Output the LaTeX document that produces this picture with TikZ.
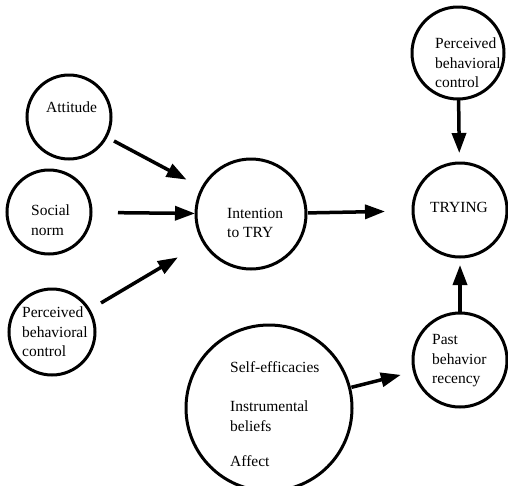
\documentclass[tikz,border=0pt]{standalone}
\usepackage{fontspec}
\setmainfont{Liberation Serif}
\usetikzlibrary{arrows.meta}
\tikzset{
  circ/.style={draw, circle, line width=3pt, inner sep=0pt, outer sep=0pt, minimum size=#1},
  lbl/.style={font=\fontsize{15.5}{19.5}\selectfont, align=left, anchor=west, inner sep=0pt},
  arr/.style={line width=3.5pt, -{Triangle[length=20pt,width=14pt]}}
}
\begin{document}
\begin{tikzpicture}[x=1pt,y=-1pt]
\useasboundingbox (0,0) rectangle (508,485);
\clip (0,0) rectangle (508,485);
% circles
\node[circ=84pt]  (att)  at (69,117) {};
\node[circ=84pt]  (soc)  at (49,212) {};
\node[circ=86pt]  (pbcL) at (52,332) {};
\node[circ=110pt] (int)  at (251,214) {};
\node[circ=94pt]  (try)  at (460,210) {};
\node[circ=92pt]  (pbcT) at (458,53) {};
\node[circ=94pt]  (past) at (460,360) {};
\node[circ=166pt] (big)  at (269,408) {};
% labels
\node[lbl] (tatt)  at (46,107) {Attitude};
\node[lbl] (tsoc)  at (31,220) {Social\\norm};
\node[lbl] (tpbcL) at (22,332) {Perceived\\behavioral\\control};
\node[lbl] (tint)  at (227,223) {Intention\\to TRY};
\node[lbl] (ttry)  at (430,207) {TRYING};
\node[lbl] (tpbcT) at (435,63) {Perceived\\behavioral\\control};
\node[lbl] (tpast) at (432,361) {Past\\behavior\\recency};
\node[lbl] (tse)   at (230,367) {Self-efficacies};
\node[lbl] (tib)   at (230,416) {Instrumental\\beliefs};
\node[lbl] (taf)   at (230,461) {Affect};
% arrows
\draw[arr, shorten <=9pt,  shorten >=18pt] (att) -- (int);
\draw[arr, shorten <=27pt, shorten >=1pt]  (soc) -- (int);
\draw[arr, shorten <=14pt, shorten >=30pt] (pbcL) -- (int);
\draw[arr, shorten <=2pt,  shorten >=28pt] (int) -- (try);
\draw[arr, shorten >=10pt] (pbcT) -- (try);
\draw[arr, shorten >=8pt]  (past) -- (try);
\draw[arr, shorten <=2pt,  shorten >=14pt] (big) -- (past);
\end{tikzpicture}
\end{document}
